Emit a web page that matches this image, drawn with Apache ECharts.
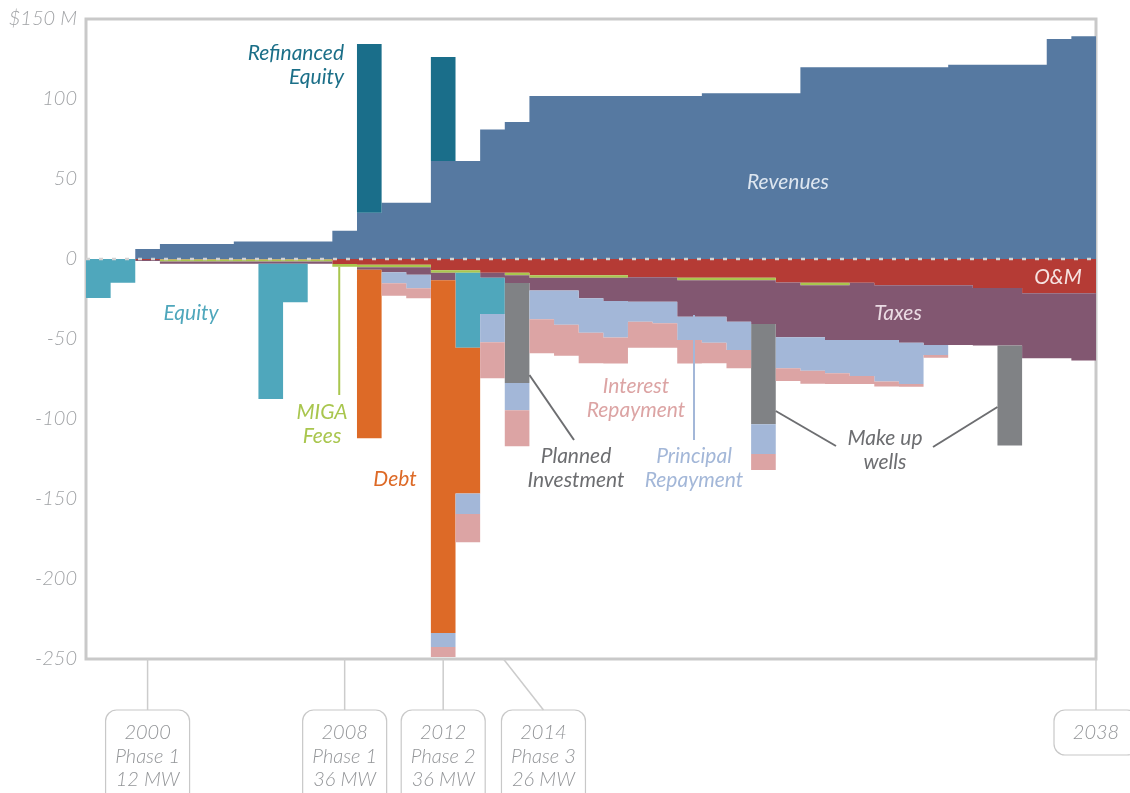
<!DOCTYPE html>
<html>
<head>
<meta charset="utf-8">
<script src="https://cdn.jsdelivr.net/npm/echarts@6/dist/echarts.min.js"></script>
<style>
html,body{margin:0;padding:0;background:#fff;}
#c{width:1130px;height:793px;}
</style>
</head>
<body>
<div id="c"></div>
<script>
// ---- DATA ($ millions, per year) ----
const years = ['1998','1999','2000','2001','2002','2003','2004','2005','2006','2007',
  '2008','2009','2010','2011','2012','2013','2014','2015','2016','2017',
  '2018','2019','2020','2021','2022','2023','2024','2025','2026','2027',
  '2028','2029','2030','2031','2032','2033','2034','2035','2036','2037','2038'];

const revenues = [0, 0, 6.2, 9.4, 9.4, 9.4, 11, 11, 11, 11,
  17.7, 28.9, 35.2, 35.2, 61.2, 61.2, 81, 85.6, 101.9, 101.9,
  101.9, 101.9, 101.9, 101.9, 101.9, 103.6, 103.6, 103.6, 103.6, 119.8,
  119.8, 119.8, 119.8, 119.8, 119.8, 121.4, 121.4, 121.4, 121.4, 137.5,
  139.2];
const refinancedEquity = [0,0,0,0,0,0,0,0,0,0,
  0, 105.5, 0, 0, 65, 0, 0, 0, 0, 0,
  0,0,0,0,0,0,0,0,0,0,
  0,0,0,0,0,0,0,0,0,0,
  0];
// outflows (shown below zero)
const om = [0, 0, 0.6, 0.3, 0.3, 0.3, 0.3, 0.3, 0.3, 0.3,
  3.1, 3.6, 3.6, 3.6, 7.1, 7.1, 8.6, 8.6, 10.2, 10.2,
  10.2, 10.2, 11.4, 11.4, 11.7, 11.7, 11.7, 11.7, 14.7, 14.8,
  14.8, 14.8, 16.4, 16.4, 16.4, 16.4, 18.1, 18.1, 21.4, 21.4,
  21.4];
const migaFees = [0, 0, 0, 1.2, 1.2, 1.2, 1.2, 1.2, 1.2, 1.2,
  1.7, 1.6, 1.6, 1.6, 1.5, 1.5, 0, 1.6, 1.5, 1.5,
  1.5, 1.5, 0, 0, 1.6, 1.6, 1.6, 1.6, 0, 1.6,
  1.6, 0, 0, 0, 0, 0, 0, 0, 0, 0,
  0];
const taxes = [0, 0, 0.6, 1.5, 1.5, 1.5, 1.5, 1.5, 1.5, 1.5,
  0, 1.5, 3.1, 4.6, 4.75, 0, 3.1, 4.8, 8.0, 8.0,
  12.9, 14.6, 15.25, 15.25, 22.75, 22.75, 25.9, 27.3, 34.25, 32.5,
  34.2, 35.8, 34.2, 35.9, 37.3, 37.3, 36, 36, 40.6, 40.6,
  42.1];
const equity = [24.4, 14.8, 0, 0, 0, 0, 0, 84.5, 24, 0,
  0, 0, 0, 0, 0, 46.9, 22.7, 0, 0, 0,
  0,0,0,0,0,0,0,0,0,0,
  0,0,0,0,0,0,0,0,0,0,
  0];
const debt = [0,0,0,0,0,0,0,0,0,0,
  0, 105.4, 0, 0, 220.4, 91, 0, 0, 0, 0,
  0,0,0,0,0,0,0,0,0,0,
  0,0,0,0,0,0,0,0,0,0,
  0];
const plannedInvestment = [0,0,0,0,0,0,0,0,0,0,
  0, 0, 0, 0, 0, 0, 0, 62.5, 0, 0,
  0,0,0,0,0,0,0,0,0,0,
  0,0,0,0,0,0,0,0,0,0,
  0];
const makeUpWells = [0,0,0,0,0,0,0,0,0,0,
  0,0,0,0,0,0,0,0,0,0,
  0, 0, 0, 0, 0, 0, 0, 62.7, 0, 0,
  0, 0, 0, 0, 0, 0, 0, 62.5, 0, 0,
  0];
const principal = [0,0,0,0,0,0,0,0,0,0,
  0, 0, 6.9, 8.5, 8.75, 12.9, 17.7, 17, 17.9, 21.4,
  21.5, 22.7, 12.5, 13.5, 14.6, 16.25, 17.7, 18.6, 19.4, 21,
  20.8, 22.5, 26, 25.8, 6.25, 0, 0, 0, 0, 0,
  0];
const interest = [0,0,0,0,0,0,0,0,0,0,
  0, 0, 7.75, 6.25, 6.25, 17.7, 22.5, 22.5, 21.25, 19.4,
  19.1, 16.25, 16.25, 15.25, 14.6, 12.9, 11.4, 10, 7.9, 8.1,
  6.7, 5, 3.1, 1.7, 1.7, 0, 0, 0, 0, 0,
  0];

const yTicks = [150, 100, 50, 0, -50, -100, -150, -200, -250];
const milestones = [
  {year: '2000', lines: ['2000', 'Phase 1', '12 MW']},
  {year: '2008', lines: ['2008', 'Phase 1', '36 MW']},
  {year: '2012', lines: ['2012', 'Phase 2', '36 MW']},
  {year: '2014', lines: ['2014', 'Phase 3', '26 MW']},
  {year: '2038', lines: ['2038']}
];

// ---- CHART ----
const FONT = 'Lato, "Open Sans", sans-serif';
const pos = a => a.slice();
const neg = a => a.map(v => -v);

const chart = echarts.init(document.getElementById('c'), null, {renderer: 'canvas'});

function bar(name, data, color) {
  return {
    name, type: 'bar', stack: 'cash', data, barCategoryGap: '0%',
    large: true, largeThreshold: 1,
    itemStyle: {color},
    emphasis: {disabled: true}, animation: false
  };
}

const option = {
  animation: false,
  backgroundColor: '#ffffff',
  grid: {left: 86, right: 34, top: 19, bottom: 134, show: true,
    borderColor: '#c9c9c9', borderWidth: 3, backgroundColor: 'transparent'},
  xAxis: {
    type: 'category', data: years, boundaryGap: true,
    axisLine: {show: false}, axisTick: {show: false}, axisLabel: {show: false},
    splitLine: {show: false}
  },
  yAxis: {
    type: 'value', min: -250, max: 150, interval: 50,
    axisLine: {show: false}, axisTick: {show: false}, splitLine: {show: false},
    axisLabel: {
      margin: 9, color: '#a2a4a7', fontSize: 20, fontStyle: 'italic',
      fontFamily: FONT, fontWeight: 300, padding: [6, 0, 0, 0],
      formatter: v => (v === yTicks[0] ? '$' + v + ' M' : String(v))
    }
  },
  series: [
    bar('Revenues', pos(revenues), '#5679a1'),
    bar('Refinanced Equity', pos(refinancedEquity), '#1a6e8a'),
    bar('O&M', neg(om), '#b53b35'),
    bar('MIGA Fees', neg(migaFees), '#a9c64e'),
    bar('Taxes', neg(taxes), '#825771'),
    bar('Equity', neg(equity), '#4fa7bc'),
    bar('Debt', neg(debt), '#dd6a27'),
    bar('Planned Investment', neg(plannedInvestment), '#808285'),
    bar('Make up wells', neg(makeUpWells), '#808285'),
    bar('Principal Repayment', neg(principal), '#a3b7d8'),
    bar('Interest Repayment', neg(interest), '#dca4a4')
  ]
};
chart.setOption(option);

// ---- ANNOTATIONS ----
const P = (cat, v) => chart.convertToPixel({gridIndex: 0}, [cat, v]);
const x0 = P(years[0], 0)[0], x1 = P(years[1], 0)[0];
const bw = x1 - x0;
const zeroY = P(years[0], 0)[1];
const bottomY = P(years[0], -250)[1];
const leftX = x0 - bw / 2;
const rightX = P(years[years.length - 1], 0)[0] + bw / 2;

function label(text, x, y, color, align, size) {
  return {type: 'text', z: 120, silent: true, style: {
    text, x, y, fill: color, align: align || 'center', verticalAlign: 'middle',
    textAlign: align || 'center', textVerticalAlign: 'middle',
    fontSize: size || 21, fontStyle: 'italic', fontFamily: FONT, fontWeight: 400,
    lineHeight: 24
  }};
}
function seg(xa, ya, xb, yb, color, w) {
  return {type: 'line', z: 110, silent: true,
    shape: {x1: xa, y1: ya, x2: xb, y2: yb},
    style: {stroke: color, lineWidth: w || 2}};
}

const g = [];
// zero dashed line
g.push({type: 'line', z: 130, silent: true,
  shape: {x1: leftX, y1: zeroY, x2: rightX, y2: zeroY},
  style: {stroke: '#d2d2d2', lineWidth: 2.5, lineDash: [4, 9]}});

// series labels
g.push(label('Refinanced\nEquity', 344, 65, '#1b6f88', 'right'));
g.push(label('Revenues', 788, 182, '#dde6f0'));
g.push(label('O&M', 1058, 277, '#f6e3e1'));
g.push(label('Taxes', 898, 313, '#eadbe3'));
g.push(label('Equity', 191, 313, '#4fa7bc'));
g.push(label('MIGA\nFees', 322, 424, '#a9c64e'));
g.push(label('Debt', 395, 479, '#dd6a27'));
g.push(label('Planned\nInvestment', 576, 468, '#6d6e71'));
g.push(label('Interest\nRepayment', 636, 398, '#dca4a4'));
g.push(label('Principal\nRepayment', 694, 468, '#a3b7d8'));
g.push(label('Make up\nwells', 885, 450, '#6d6e71'));

// leader lines
const migaX = P('2008', 0)[0] - bw * 0.22;
g.push(seg(migaX, P('2008', -4.8)[1], migaX, 395, '#a9c64e', 2));
g.push(seg(P('2015', 0)[0] + bw / 2, 375, 574, 440, '#6d6e71', 2));
g.push(seg(694, P('2021', -35)[1], 694, 440, '#a3b7d8', 2));
g.push(seg(P('2025', 0)[0] + bw / 2, 411, 836, 446, '#6d6e71', 2));
g.push(seg(P('2035', 0)[0] - bw / 2, 407, 933, 447, '#6d6e71', 2));

// milestone boxes under the axis
milestones.forEach(m => {
  let tx;
  if (m.year === '2038') tx = rightX;
  else tx = P(m.year, 0)[0];
  let bx = tx;
  if (m.year === '2014') { bx = tx + 51; g.push(seg(tx + 11, bottomY, bx, 710, '#cccccc', 1.5)); }
  else g.push(seg(tx, bottomY, tx, 710, '#cccccc', 1.5));
  const h = m.lines.length === 1 ? 45 : 100;
  g.push({type: 'rect', z: 100, silent: true,
    shape: {x: bx - 42, y: 710, width: 84, height: h, r: 11},
    style: {fill: '#ffffff', stroke: '#c8c8c8', lineWidth: 1.2}});
  g.push({type: 'text', z: 120, silent: true, style: {
    text: m.lines.join('\n'), x: bx, y: 721, fill: '#939598',
    align: 'center', verticalAlign: 'top', textAlign: 'center', textVerticalAlign: 'top',
    fontSize: 20, fontStyle: 'italic', fontFamily: FONT, fontWeight: 300, lineHeight: 23.5
  }});
});

chart.setOption({graphic: {elements: g}});
</script>
</body>
</html>
